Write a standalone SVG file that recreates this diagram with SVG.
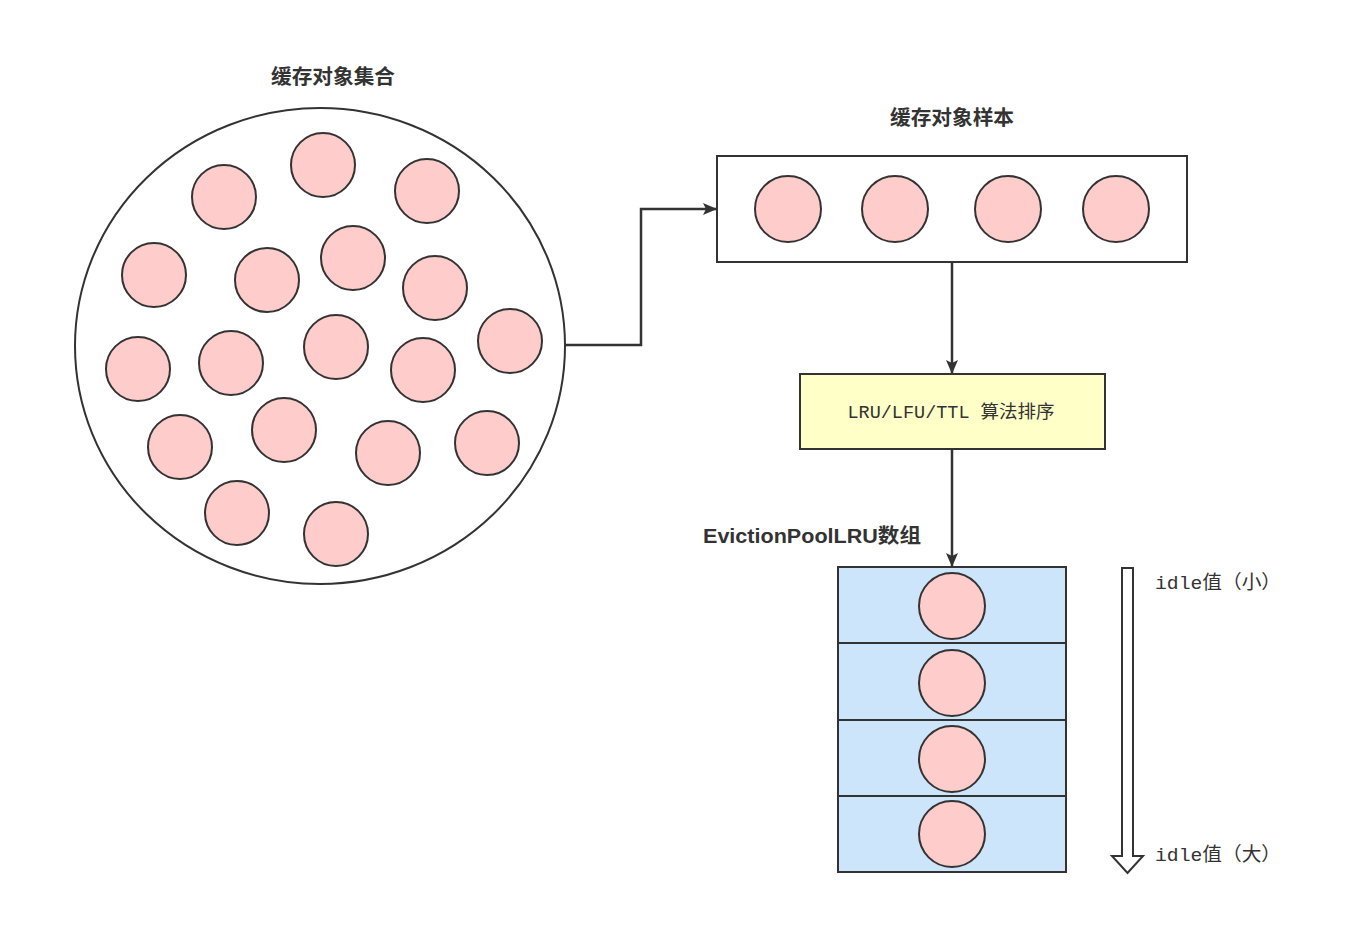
<svg xmlns="http://www.w3.org/2000/svg" width="1364" height="941" viewBox="0 0 1364 941">
<style>
.obj{fill:#ffcccc;stroke:#333;stroke-width:2}
.edge{fill:none;stroke:#333;stroke-width:2.5}
.title{font-family:"Liberation Sans","Noto Sans CJK SC",sans-serif;font-weight:bold;font-size:20px;fill:#333}
.mono{font-family:"Liberation Mono","Noto Sans CJK SC",monospace;fill:#333}
</style>
<defs>
<marker id="arr" viewBox="0 0 14 12" refX="13" refY="6" markerWidth="14" markerHeight="12" markerUnits="userSpaceOnUse" orient="auto">
<path d="M0,0 L14,6 L0,12 L3,6 Z" fill="#333"/>
</marker>
</defs>
<rect width="1364" height="941" fill="#fff"/>
<g id="pool">
<text class="title" x="333" y="84" text-anchor="middle" textLength="124" lengthAdjust="spacingAndGlyphs">缓存对象集合</text>
<ellipse cx="320" cy="346" rx="245" ry="238" fill="#fff" stroke="#333" stroke-width="2"/>
<circle class="obj" cx="323" cy="165" r="32"/>
<circle class="obj" cx="224" cy="197" r="32"/>
<circle class="obj" cx="427" cy="191" r="32"/>
<circle class="obj" cx="154" cy="275" r="32"/>
<circle class="obj" cx="267" cy="280" r="32"/>
<circle class="obj" cx="353" cy="258" r="32"/>
<circle class="obj" cx="435" cy="288" r="32"/>
<circle class="obj" cx="510" cy="341" r="32"/>
<circle class="obj" cx="138" cy="369" r="32"/>
<circle class="obj" cx="231" cy="363" r="32"/>
<circle class="obj" cx="336" cy="347" r="32"/>
<circle class="obj" cx="423" cy="370" r="32"/>
<circle class="obj" cx="180" cy="447" r="32"/>
<circle class="obj" cx="284" cy="430" r="32"/>
<circle class="obj" cx="388" cy="453" r="32"/>
<circle class="obj" cx="487" cy="443" r="32"/>
<circle class="obj" cx="237" cy="513" r="32"/>
<circle class="obj" cx="336" cy="534" r="32"/>
</g>
<g id="sample">
<text class="title" x="952" y="125" text-anchor="middle" textLength="124" lengthAdjust="spacingAndGlyphs">缓存对象样本</text>
<rect x="717" y="156" width="470" height="106" fill="#fff" stroke="#333" stroke-width="2"/>
<circle class="obj" cx="788" cy="209" r="33"/>
<circle class="obj" cx="895" cy="209" r="33"/>
<circle class="obj" cx="1008" cy="209" r="33"/>
<circle class="obj" cx="1116" cy="209" r="33"/>
</g>
<g id="sort">
<rect x="800" y="374" width="305" height="75" fill="#ffffc8" stroke="#333" stroke-width="2"/>
<text class="mono" x="951" y="418" font-size="18" text-anchor="middle" textLength="207" lengthAdjust="spacingAndGlyphs">LRU/LFU/TTL 算法排序</text>
</g>
<g id="evictionpool">
<text class="title" x="703" y="543" textLength="218" lengthAdjust="spacingAndGlyphs">EvictionPoolLRU数组</text>
<rect x="838" y="567" width="228" height="76" fill="#cce5fb" stroke="#333" stroke-width="2"/>
<rect x="838" y="643" width="228" height="77" fill="#cce5fb" stroke="#333" stroke-width="2"/>
<rect x="838" y="720" width="228" height="76" fill="#cce5fb" stroke="#333" stroke-width="2"/>
<rect x="838" y="796" width="228" height="76" fill="#cce5fb" stroke="#333" stroke-width="2"/>
<circle class="obj" cx="952" cy="606" r="33"/>
<circle class="obj" cx="952" cy="683" r="33"/>
<circle class="obj" cx="952" cy="759" r="33"/>
<circle class="obj" cx="952" cy="834" r="33"/>
</g>
<g id="idle-scale">
<path d="M1122,568 L1133,568 L1133,856 L1143,856 L1127.5,873 L1112,856 L1122,856 Z" fill="#fff" stroke="#333" stroke-width="2" stroke-linejoin="miter"/>
<text class="mono" x="1155" y="589" font-size="19" textLength="126" lengthAdjust="spacingAndGlyphs">idle值（小）</text>
<text class="mono" x="1155" y="861" font-size="19" textLength="126" lengthAdjust="spacingAndGlyphs">idle值（大）</text>
</g>
<g id="connectors">
<path class="edge" d="M565,345 L641,345 L641,209 L716,209" marker-end="url(#arr)"/>
<path class="edge" d="M952,262 L952,373" marker-end="url(#arr)"/>
<path class="edge" d="M952,449 L952,566" marker-end="url(#arr)"/>
</g>
</svg>
